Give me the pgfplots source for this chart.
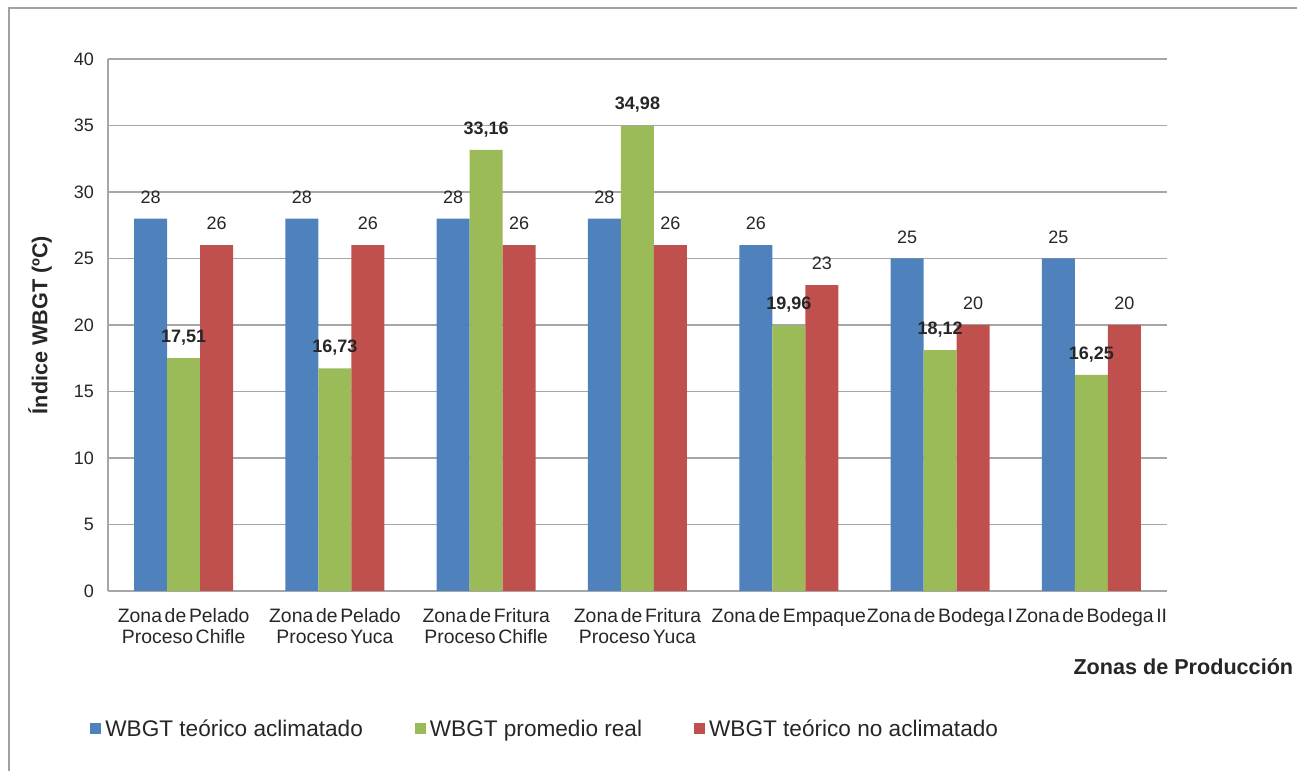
\documentclass[border=0pt]{standalone}
\usepackage{pgfplots}
\pgfplotsset{compat=1.18}
\usepackage{fontspec}
\setmainfont{Liberation Sans}
\newfontfamily\tickfont[WordSpace=0.5]{Liberation Sans}
\definecolor{cblue}{HTML}{4F81BD}
\definecolor{cgreen}{HTML}{9BBB59}
\definecolor{cred}{HTML}{C0504D}
\definecolor{gridc}{HTML}{A6A6A6}
\definecolor{framec}{HTML}{A0A0A0}
\definecolor{txt}{HTML}{262626}
\pgfplotsset{
  mylegend/.style={legend image code/.code={\fill[##1] (0pt,-2pt) rectangle (5.5pt,3.5pt);}},
}
\begin{document}
\begin{tikzpicture}
\begin{axis}[
  at={(0pt,0pt)}, anchor=south west,
  scale only axis, width=529.5pt, height=266pt,
  ybar=0pt, bar width=16.5pt,
  xmin=-0.5, xmax=6.5, ymin=0, ymax=40,
  ytick={0,5,...,40},
  xtick={0,...,6},
  xticklabels={{Zona de Pelado\\Proceso Chifle},{Zona de Pelado\\Proceso Yuca},{Zona de Fritura\\Proceso Chifle},{Zona de Fritura\\Proceso Yuca},{Zona de Empaque},{Zona de Bodega I},{Zona de Bodega II}},
  xticklabel style={align=center, font=\tickfont\fontsize{9.7}{10.5}\selectfont, yshift=-5pt, text=txt},
  yticklabel style={font=\fontsize{9}{10}\selectfont, xshift=-3.5pt, text=txt},
  /pgf/number format/assume math mode=true,
  ymajorgrids, grid style={gridc, line width=0.6pt},
  axis x line*=bottom, axis y line*=left,
  axis line style={gridc, line width=0.8pt, -},
  major tick length=0pt,
  xlabel={Zonas de Producción},
  ylabel={Índice WBGT (ºC)},
  every axis x label/.style={at={(rel axis cs:1.1195,-0.143)}, anchor=east, inner sep=0pt, text=txt, font=\bfseries\fontsize{10.8}{12}\selectfont},
  every axis y label/.style={at={(rel axis cs:-0.0642,0.5)}, rotate=90, anchor=center, text=txt, font=\bfseries\fontsize{10.8}{12}\selectfont},
  legend style={at={(rel axis cs:-0.017,-0.261)}, anchor=west, draw=none, fill=none, inner sep=0pt,
    legend columns=3, font=\fontsize{11.3}{13}\selectfont, text=txt,
    /tikz/every even column/.append style={column sep=24pt}},
  legend cell align=left,
]
\addplot[fill=cblue, draw=none, mylegend, nodes near coords,
  every node near coord/.append style={font=\fontsize{9}{10}\selectfont, yshift=4pt, text=txt}]
  coordinates {(0,28) (1,28) (2,28) (3,28) (4,26) (5,25) (6,25)};
\addplot[fill=cgreen, draw=none, mylegend,
  nodes near coords={\pgfmathprintnumber[fixed,fixed zerofill,precision=2,use comma]{\pgfplotspointmeta}},
  every node near coord/.append style={font=\bfseries\fontsize{9}{10}\selectfont, yshift=3pt, text=txt}]
  coordinates {(0,17.51) (1,16.73) (2,33.16) (3,34.98) (4,19.96) (5,18.12) (6,16.25)};
\addplot[fill=cred, draw=none, mylegend, nodes near coords,
  every node near coord/.append style={font=\fontsize{9}{10}\selectfont, yshift=4pt, text=txt}]
  coordinates {(0,26) (1,26) (2,26) (3,26) (4,23) (5,20) (6,20)};
\legend{WBGT teórico aclimatado, WBGT promedio real, WBGT teórico no aclimatado}
\end{axis}
\draw[framec, line width=0.8pt] (-49.5pt,-95pt) -- (-49.5pt,291.5pt) -- (600pt,291.5pt);
\pgfresetboundingbox
\useasboundingbox (-54pt,-90pt) rectangle (594.5pt,295.5pt);
\end{tikzpicture}
\end{document}
